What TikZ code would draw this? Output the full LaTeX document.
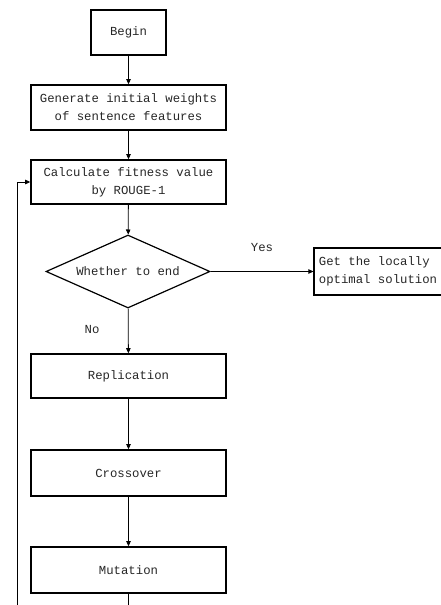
\documentclass[tikz,border=0pt]{standalone}
\usepackage{fontspec}
\setmonofont{Liberation Mono}
\usetikzlibrary{shapes.geometric,arrows.meta}
\begin{document}
\begin{tikzpicture}[x=1pt,y=-1pt,
  every node/.style={font=\ttfamily\fontsize{12.3}{18}\selectfont, text=black!85},
  box/.style={draw, line width=1.6pt, inner sep=0pt, align=center, minimum width=195pt, minimum height=45pt},
  dec/.style={draw, shape=diamond, line width=1.2pt, inner sep=0pt, aspect=2.25, minimum width=164pt, minimum height=73pt},
  conn/.style={line width=0.8pt, -{Triangle[length=5pt,width=4.5pt]}},
  lbl/.style={inner sep=0pt}]
\clip (0,0) rectangle (441,605);
\node[box, minimum width=75pt] (begin) at (128.5,32.5) {Begin};
\node[box] (gen) at (128.5,107.5) {Generate initial weights\\of sentence features};
\node[box, minimum height=44pt] (calc) at (128.5,182) {Calculate fitness value\\by ROUGE-1};
\node[dec] (end) at (128,271.5) {Whether to end};
\node[box, minimum width=128pt, minimum height=47pt, align=left, line width=1.2pt] (get) at (378,271.5) {Get the locally\\optimal solution};
\node[box, minimum height=44pt] (rep) at (128.5,376) {Replication};
\node[box, minimum height=46pt] (cross) at (128.5,473) {Crossover};
\node[box, minimum height=46pt] (mut) at (128.5,570) {Mutation};
\node[lbl] (yes) at (262,248) {Yes};
\node[lbl] (no) at (92,330) {No};
\coordinate (b1) at (128.5,625);
\coordinate (b2) at (17,625);
\draw[conn] (begin) -- (gen);
\draw[conn] (gen) -- (calc);
\draw[conn] (calc) -- (end);
\draw[conn] (end) -- (get);
\draw[conn] (end) -- (rep);
\draw[conn] (rep) -- (cross);
\draw[conn] (cross) -- (mut);
\draw[conn] (mut.south) -- (b1) -- (b2) |- (calc.west);
\end{tikzpicture}
\end{document}
